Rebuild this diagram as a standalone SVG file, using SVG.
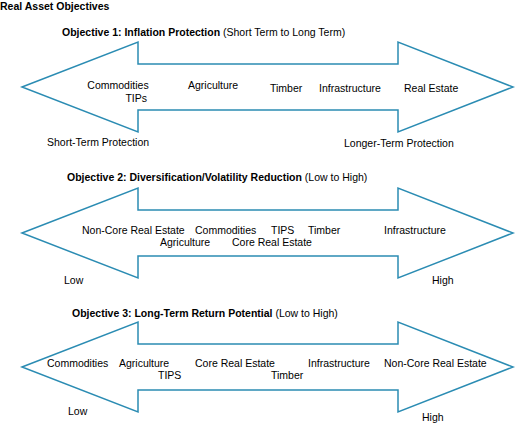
<svg xmlns="http://www.w3.org/2000/svg" width="527" height="427" viewBox="0 0 527 427">
<style>
text{font-family:"Liberation Sans",Arial,sans-serif;font-size:10.5px;fill:#000}
.b{font-weight:bold}
.arrow{fill:#fff;stroke:#2b8cb3;stroke-width:1.5;stroke-linejoin:miter}
</style>
<defs>
<polygon id="dbl" class="arrow" points="22,0 138,-45 138,-23 398,-23 398,-45 513,0 398,45 398,23 138,23 138,45"/>
</defs>
<rect width="527" height="427" fill="#fff"/>
<text class="b" x="0" y="10">Real Asset Objectives</text>
<g id="connectors">
<use href="#dbl" y="87"/>
<use href="#dbl" y="233"/>
<use href="#dbl" y="367"/>
</g>
<g id="obj1">
<text x="62" y="36"><tspan class="b">Objective 1: Inflation Protection</tspan> (Short Term to Long Term)</text>
<text x="118" y="89" text-anchor="middle">Commodities</text>
<text x="147" y="102" text-anchor="end">TIPs</text>
<text x="188" y="89">Agriculture</text>
<text x="270" y="92">Timber</text>
<text x="319" y="92">Infrastructure</text>
<text x="404" y="92">Real Estate</text>
<text x="47" y="146">Short-Term Protection</text>
<text x="344" y="147">Longer-Term Protection</text>
</g>
<g id="obj2">
<text x="67" y="181"><tspan class="b">Objective 2: Diversification/Volatility Reduction</tspan> (Low to High)</text>
<text x="82" y="234">Non-Core Real Estate</text>
<text x="195" y="234">Commodities</text>
<text x="271" y="234">TIPS</text>
<text x="308" y="234">Timber</text>
<text x="384" y="234">Infrastructure</text>
<text x="160" y="246">Agriculture</text>
<text x="232" y="246">Core Real Estate</text>
<text x="64" y="284">Low</text>
<text x="432" y="284">High</text>
</g>
<g id="obj3">
<text x="72" y="317"><tspan class="b">Objective 3: Long-Term Return Potential</tspan> (Low to High)</text>
<text x="47" y="367">Commodities</text>
<text x="119" y="367">Agriculture</text>
<text x="158" y="379">TIPS</text>
<text x="195" y="367">Core Real Estate</text>
<text x="271" y="379">Timber</text>
<text x="308" y="367">Infrastructure</text>
<text x="384" y="367">Non-Core Real Estate</text>
<text x="68" y="415">Low</text>
<text x="422" y="421">High</text>
</g>
</svg>
